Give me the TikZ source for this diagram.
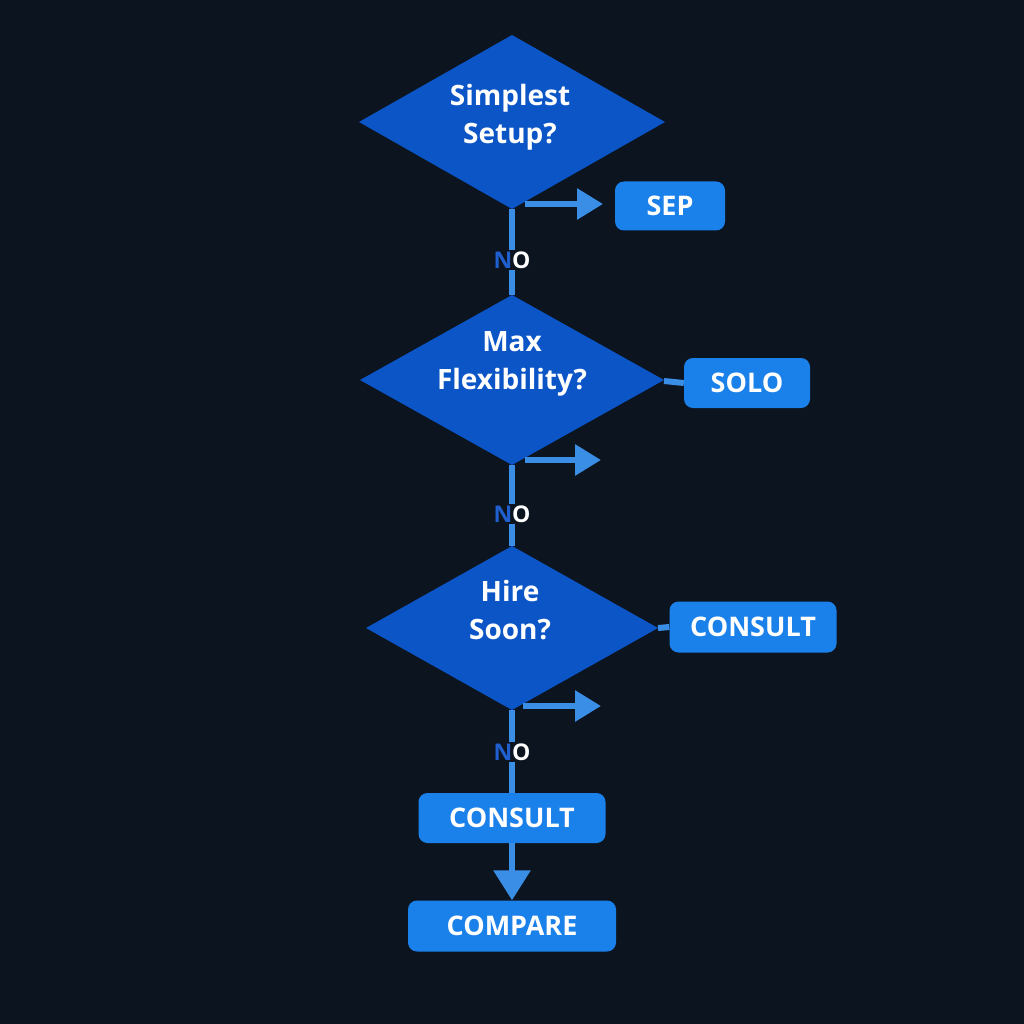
\documentclass[tikz,border=0pt]{standalone}
\usepackage{fontspec}
\setmainfont{Open Sans}
\usetikzlibrary{arrows.meta}
\definecolor{bg}{HTML}{0C1420}
\definecolor{dia}{HTML}{0B55C6}
\definecolor{box}{HTML}{1A80EA}
\definecolor{con}{HTML}{3A8EE6}
\definecolor{nob}{HTML}{1F5FD0}
\begin{document}
\begin{tikzpicture}[x=1pt,y=-1pt,
  box/.style={fill=box,rounded corners=9pt,text=white,font=\bfseries\fontsize{27}{29}\selectfont},
  dtxt/.style={text=white,font=\bfseries\fontsize{28}{38}\selectfont,align=center},
  con/.style={draw=con,line width=6pt},
  arr/.style={con,-{Triangle[length=26pt,width=30pt]}},
  no/.style={font=\bfseries\fontsize{23}{24}\selectfont,inner sep=1pt}]
\fill[bg] (0,0) rectangle (1024,1024);
\useasboundingbox (0,0) rectangle (1024,1024);
% diamonds
\fill[dia] (359,122) -- (512,35) -- (665,122) -- (512,209) -- cycle;
\node[dtxt] (d1) at (510,117) {Simplest\\Setup?};
\fill[dia] (360,380) -- (512,295) -- (664,380) -- (512,465) -- cycle;
\node[dtxt] (d2) at (512,364) {Max\\Flexibility?};
\fill[dia] (366,628) -- (512,546) -- (658,628) -- (512,710) -- cycle;
\node[dtxt] (d3) at (510,610) {Hire\\Soon?};
% boxes
\node[box,minimum width=110pt,minimum height=49pt] (sep) at (670,206) {SEP};
\node[box,minimum width=126pt,minimum height=50pt] (solo) at (747,383) {SOLO};
\node[box,minimum width=167pt,minimum height=51pt] (c1) at (753,627) {CONSULT};
\node[box,minimum width=187pt,minimum height=50pt] (c2) at (512,818) {CONSULT};
\node[box,minimum width=208pt,minimum height=51pt] (cmp) at (512,926) {COMPARE};
% NO labels
\node[no] (n1) at (512,260) {\textcolor{nob}{N}\textcolor{white}{O}};
\node[no] (n2) at (512,514) {\textcolor{nob}{N}\textcolor{white}{O}};
\node[no] (n3) at (512,752) {\textcolor{nob}{N}\textcolor{white}{O}};
\coordinate (b1) at (512,209); \coordinate (t2) at (512,295);
\coordinate (b2) at (512,465); \coordinate (t3) at (512,546);
\coordinate (b3) at (512,710);
\draw[con] (b1) -- (n1.north);
\draw[con] (n1.south) -- (t2);
\draw[con] (b2) -- (n2.north);
\draw[con] (n2.south) -- (t3);
\draw[con] (b3) -- (n3.north);
\draw[con] (n3.south) -- (c2.north);
\draw[con,-{Triangle[length=30pt,width=36pt]}] (c2.south) -- (cmp.north);
% side arrows
\coordinate (a1) at (525,204); \coordinate (e1) at (603,204);
\coordinate (a2) at (525,460); \coordinate (e2) at (601,460);
\coordinate (a3) at (523,706); \coordinate (e3) at (601,706);
\draw[arr] (a1) -- (e1);
\draw[arr] (a2) -- (e2);
\draw[arr] (a3) -- (e3);
\coordinate (r2) at (664,381); \coordinate (r3) at (658,628);
\draw[con] (r2) -- (solo.west);
\draw[con] (r3) -- (c1.west);
\end{tikzpicture}
\end{document}
